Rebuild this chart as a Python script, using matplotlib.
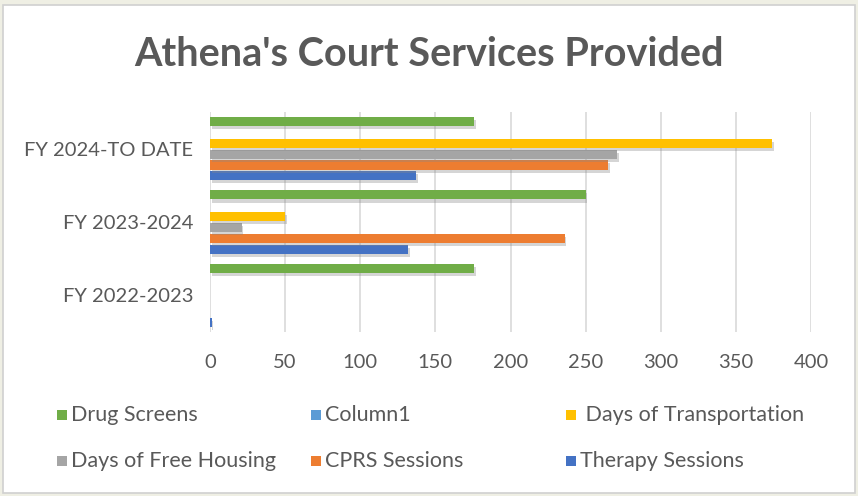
import matplotlib
matplotlib.use("Agg")
import matplotlib.pyplot as plt
import matplotlib.patheffects as pe
from matplotlib.patches import Rectangle
import numpy as np

# categories bottom -> top as drawn
categories = ["FY 2022-2023", "FY 2023-2024", "FY 2024-TO DATE"]

# series in drawing order (bottom of each group first)
series_names = ["Therapy Sessions", "CPRS Sessions", "Days of Free Housing",
                "Days of Transportation", "Column1", "Drug Screens"]
therapy = [1, 132, 137]
cprs = [0, 236, 265]
housing = [0, 21, 271]
transport = [0, 50, 374]
column1 = [0, 0, 0]
drug = [176, 250, 176]
series_values = [therapy, cprs, housing, transport, column1, drug]
colors = ["#4472C4", "#ED7D31", "#A5A5A5", "#FFC000", "#5B9BD5", "#70AD47"]

# legend order (row major, 3 columns)
legend_names = ["Drug Screens", "Column1", " Days of Transportation",
                "Days of Free Housing", "CPRS Sessions", "Therapy Sessions"]
legend_colors = ["#70AD47", "#5B9BD5", "#FFC000", "#A5A5A5", "#ED7D31", "#4472C4"]

font = "Lato"
grey = "#595959"

fig = plt.figure(figsize=(8.58, 4.96), dpi=100)
fig.patch.set_facecolor("#EFEFE4")
fig.patches.append(Rectangle((3 / 858, 3 / 496), 852 / 858, 488 / 496,
                             transform=fig.transFigure, facecolor="white",
                             edgecolor="#D0D0D0", linewidth=1.2, zorder=-5))

ax = fig.add_axes([210 / 858, 1 - 332 / 496, 601 / 858, 220 / 496])
ax.set_facecolor("none")

y = np.arange(len(categories))
slot = 0.148
bar_h = 0.125
shadow = [pe.SimplePatchShadow(offset=(1.2, -2.2), shadow_rgbFace="#888888", alpha=0.35), pe.Normal()]
for i, (vals, c) in enumerate(zip(series_values, colors)):
    ax.barh(y + (i - 2.5) * slot, vals, height=bar_h, color=c, zorder=3,
            path_effects=shadow)

ax.set_xlim(0, 400)
ax.set_ylim(-0.5, 2.5)
ax.set_xticks(np.arange(0, 401, 50))
ax.set_yticks(y)
ax.set_yticklabels(categories)
ax.grid(axis="x", color="#D9D9D9", linewidth=1.2, zorder=0)
ax.tick_params(length=0, labelcolor=grey, labelsize=14.5)
ax.tick_params(axis="y", pad=12)
ax.tick_params(axis="x", pad=16)
for lab in ax.get_xticklabels() + ax.get_yticklabels():
    lab.set_fontfamily(font)
for s in ax.spines.values():
    s.set_visible(False)

fig.text(429 / 858, 1 - 55 / 496, "Athena's Court Services Provided",
         ha="center", va="center", fontsize=28.5, fontweight="bold",
         color=grey, family=font)

# legend, laid out like Excel's three equal columns
col_x = [57, 311, 566]
row_y = [415, 461]
for k, (name, c) in enumerate(zip(legend_names, legend_colors)):
    cx = col_x[k % 3]
    cy = row_y[k // 3]
    fig.patches.append(Rectangle((cx / 858, 1 - (cy + 5) / 496), 10 / 858, 10 / 496,
                                 transform=fig.transFigure, facecolor=c,
                                 edgecolor="none", zorder=2))
    fig.text((cx + 14) / 858, 1 - cy / 496, name, ha="left", va="center",
             fontsize=15.5, color=grey, family=font)

fig.savefig("out.png", dpi=100, facecolor=fig.get_facecolor())
